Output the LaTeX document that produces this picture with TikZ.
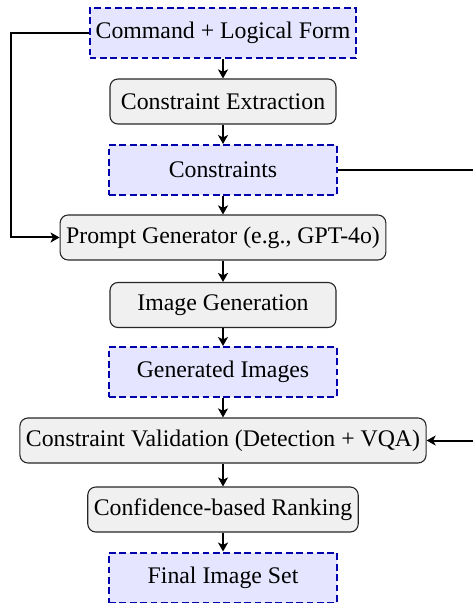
\documentclass[tikz,border=0pt]{standalone}
\usepackage{fontspec}
\setmainfont{Liberation Serif}
\usetikzlibrary{arrows.meta}
\begin{document}
\begin{tikzpicture}[x=1pt,y=1pt,
  font=\fontsize{11.9}{14}\selectfont,
  process/.style={draw=black!85, line width=0.55pt, fill=black!6, rounded corners=4pt,
    minimum width=113pt, minimum height=22.5pt, inner xsep=3pt},
  data/.style={draw=blue!68!black, dash pattern=on 3.4pt off 1.8pt, line width=1pt, fill=blue!10,
    minimum width=114pt, minimum height=25pt, inner xsep=3pt},
  flow/.style={-{Stealth[length=4.5pt,width=5pt,inset=1.2pt]}, line width=1pt},
  link/.style={line width=1pt}]
\useasboundingbox (0,0) rectangle (236,-301.5);
\node[data]    (cmd)  at (111.5,-16.5)   {Command + Logical Form};
\node[process] (ext)  at (111.5,-50.75)  {Constraint Extraction};
\node[data]    (con)  at (111.5,-85)     {Constraints};
\node[process] (pg)   at (111.5,-118.75) {Prompt Generator (e.g., GPT-4o)};
\node[process] (ig)   at (111.5,-152.5)  {Image Generation};
\node[data]    (gen)  at (111.5,-186)    {Generated Images};
\node[process] (val)  at (111.5,-220.25) {Constraint Validation (Detection + VQA)};
\node[process] (rank) at (111.5,-254.75) {Confidence-based Ranking};
\node[data]    (fin)  at (111.5,-288.75) {Final Image Set};
\draw[flow] (cmd) -- (ext);
\draw[flow] (ext) -- (con);
\draw[flow] (con) -- (pg);
\draw[flow] (pg) -- (ig);
\draw[flow] (ig) -- (gen);
\draw[flow] (gen) -- (val);
\draw[flow] (val) -- (rank);
\draw[flow] (rank) -- (fin);
% side links: logical form into the prompt generator, constraints into validation
\coordinate (lx) at (5.5,0);
\coordinate (rx) at (242,0);
\draw[flow] (cmd.west) -- (cmd.west -| lx) -- (pg.west -| lx) -- (pg.west);
\draw[flow] (con.east) -- (con.east -| rx) -- (val.east -| rx) -- (val.east);
\end{tikzpicture}
\end{document}
